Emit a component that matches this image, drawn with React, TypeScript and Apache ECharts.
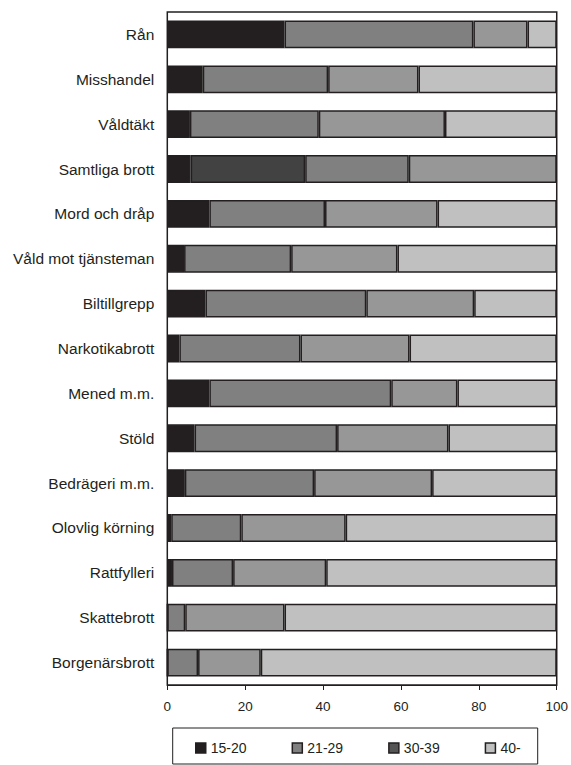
import React, { useEffect, useRef } from "react";
import * as echarts from "echarts";

const categories = [
  "Rån",
  "Misshandel",
  "Våldtäkt",
  "Samtliga brott",
  "Mord och dråp",
  "Våld mot tjänsteman",
  "Biltillgrepp",
  "Narkotikabrott",
  "Mened m.m.",
  "Stöld",
  "Bedrägeri m.m.",
  "Olovlig körning",
  "Rattfylleri",
  "Skattebrott",
  "Borgenärsbrott",
];

const seriesNames = ["15-20", "21-29", "30-39", "40-"];

const age15to20 = [30.1, 9.1, 5.8, 6.0, 10.8, 4.3, 9.8, 3.1, 10.8, 7.0, 4.5, 1.0, 1.2, 0, 0];
const age21to29 = [48.5, 32.2, 33.1, 29.4, 29.7, 27.5, 41.3, 31.1, 46.7, 36.6, 33.2, 18.0, 15.7, 4.6, 7.9];
const age30to39 = [13.9, 23.2, 32.4, 26.6, 28.9, 27.3, 27.7, 28.0, 17.0, 28.6, 30.3, 26.8, 23.9, 25.5, 16.1];
const age40plus = [7.5, 35.5, 28.7, 38.0, 30.6, 40.9, 21.2, 37.8, 25.5, 27.8, 32.0, 54.2, 59.2, 69.9, 76.0];

const xTicks = [0, 20, 40, 60, 80, 100];

const seriesValues = [age15to20, age21to29, age30to39, age40plus];
const colors = ["#231f20", "#808080", "#979797", "#c0c0c0"];
const highlightColors = ["#231f20", "#424242", "#808080", "#979797"];
const highlightCategory = "Samtliga brott";
const legendColors = ["#231f20", "#808080", "#555555", "#c0c0c0"];

const FONT = "'Liberation Sans', Arial, Helvetica, sans-serif";
const INK = "#231f20";

export default function App() {
  const ref = useRef<HTMLDivElement>(null);

  useEffect(() => {
    document.body.style.margin = "0";
    if (!ref.current) return;
    const chart = echarts.init(ref.current, null, { renderer: "svg" });

    const series = seriesNames.map((name, k) => ({
      name,
      type: "bar",
      stack: "total",
      barCategoryGap: "38%",
      itemStyle: { color: colors[k], borderColor: INK, borderWidth: 1.5 },
      data: seriesValues[k].map((v, i) =>
        categories[i] === highlightCategory
          ? { value: v, itemStyle: { color: highlightColors[k] } }
          : v
      ),
    }));

    chart.setOption({
      animation: false,
      textStyle: { fontFamily: FONT },
      grid: {
        left: 167.3,
        right: 13.3,
        top: 12,
        bottom: 80,
        show: true,
        borderColor: INK,
        borderWidth: 1.5,
        backgroundColor: "#ffffff",
      },
      xAxis: {
        type: "value",
        min: xTicks[0],
        max: xTicks[xTicks.length - 1],
        interval: xTicks[1] - xTicks[0],
        axisLine: { show: true, lineStyle: { color: INK, width: 1 } },
        axisTick: { show: true, length: 5, lineStyle: { color: INK } },
        splitLine: { show: false },
        axisLabel: { color: INK, fontSize: 13.5, margin: 14, fontFamily: FONT },
      },
      yAxis: {
        type: "category",
        inverse: true,
        data: categories,
        axisLine: { show: false },
        axisTick: { show: false },
        axisLabel: { color: INK, fontSize: 15.5, margin: 13, fontFamily: FONT },
      },
      legend: {
        left: 195,
        top: 741,
        padding: 0,
        itemWidth: 10,
        itemHeight: 10,
        itemGap: 45,
        icon: "rect",
        textStyle: { color: INK, fontSize: 14, fontFamily: FONT },
        data: seriesNames.map((name, k) => ({
          name,
          itemStyle: { color: legendColors[k], borderColor: INK, borderWidth: 1.5 },
        })),
      },
      graphic: [
        {
          type: "rect",
          shape: { x: 172.7, y: 728, width: 365, height: 36 },
          style: { fill: "none", stroke: INK, lineWidth: 1 },
          silent: true,
        },
      ],
      series,
    });

    return () => chart.dispose();
  }, []);

  return <div ref={ref} style={{ width: 571, height: 765 }} />;
}
